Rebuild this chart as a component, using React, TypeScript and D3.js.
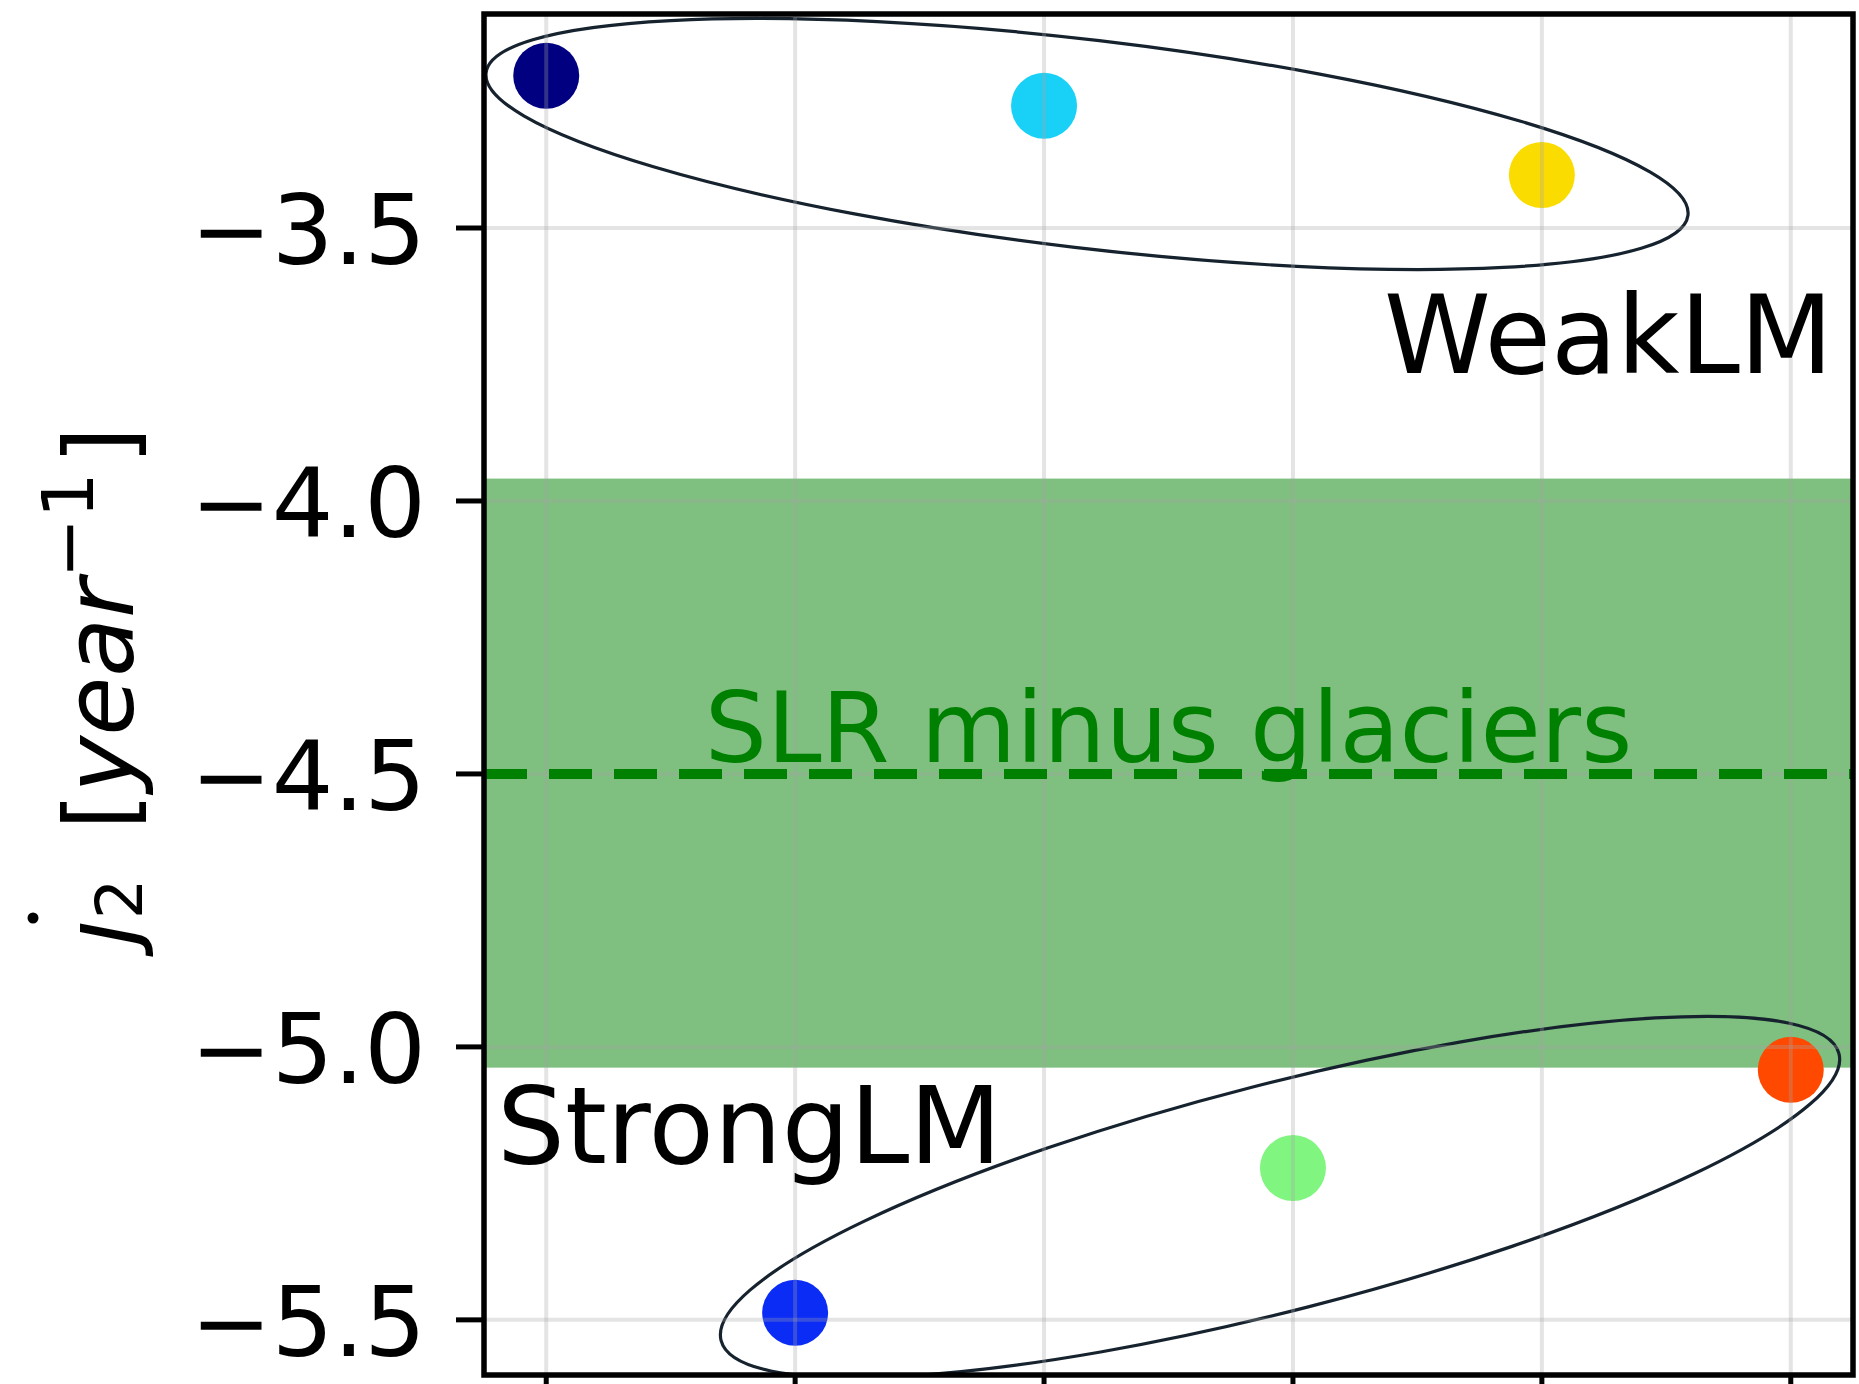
import React from "react";
import * as d3 from "d3";

// Scenario index along the x axis and the J2 rate for each scenario
const scenarioIndex = [0, 1, 2, 3, 4, 5];
const j2Rate = [-3.221, -5.487, -3.276, -5.222, -3.403, -5.042];
const pointColors = ["#000080", "#0a2cf5", "#19d0f6", "#80f580", "#fadc00", "#ff4800"];

const xTicks = [0, 1, 2, 3, 4, 5];
const yTicks = [-3.5, -4.0, -4.5, -5.0, -5.5];
const xDomain = [-0.25, 5.25];
const yDomain = [-5.601, -3.108];

// Observational range (SLR minus glaciers) and its central value
const slrBand = [-5.038, -3.959];
const slrCentral = -4.5;
const slrLabel = "SLR minus glaciers";

// Group outlines: major-axis endpoints in data units, minor/major ratio in screen space
const groupNames = ["WeakLM", "StrongLM"];
const groupMajorStart = [[-0.2416, -3.2157], [0.7026, -5.538]];
const groupMajorEnd = [[4.587, -3.4766], [5.1936, -5.0122]];
const groupAxisRatio = [0.172, 0.1965];

const W = 1859;
const H = 1384;
const plot = { left: 484, right: 1853, top: 14, bottom: 1375 };
const FONT = "'DejaVu Sans', sans-serif";

export default function App() {
  const x = d3.scaleLinear().domain(xDomain).range([plot.left, plot.right]);
  const y = d3.scaleLinear().domain(yDomain).range([plot.bottom, plot.top]);

  const ellipses = groupNames.map((name, i) => {
    const p0 = [x(groupMajorStart[i][0]), y(groupMajorStart[i][1])];
    const p1 = [x(groupMajorEnd[i][0]), y(groupMajorEnd[i][1])];
    const cx = (p0[0] + p1[0]) / 2;
    const cy = (p0[1] + p1[1]) / 2;
    const rx = Math.hypot(p1[0] - p0[0], p1[1] - p0[1]) / 2;
    const ry = rx * groupAxisRatio[i];
    const angle = (Math.atan2(p1[1] - p0[1], p1[0] - p0[0]) * 180) / Math.PI;
    return { name, cx, cy, rx, ry, angle };
  });

  const tickLen = 28;
  const tickFont = 97;

  // rotated y-axis label anchor (baseline)
  const labX = 133;
  const labY = 694;
  const labFont = 96;

  return (
    <div style={{ position: "absolute", left: 0, top: 0 }}>
      <svg width={W} height={H} viewBox={`0 0 ${W} ${H}`} style={{ display: "block", background: "#fff" }}>
        <defs>
          <clipPath id="plotClip">
            <rect x={plot.left} y={plot.top} width={plot.right - plot.left} height={plot.bottom - plot.top} />
          </clipPath>
        </defs>

        <g clipPath="url(#plotClip)">
          {/* observational band */}
          <rect
            x={plot.left}
            width={plot.right - plot.left}
            y={y(slrBand[1])}
            height={y(slrBand[0]) - y(slrBand[1])}
            fill="#008000"
            fillOpacity={0.5}
          />

          {/* scenario points */}
          {scenarioIndex.map((s, i) => (
            <circle key={s} cx={x(s)} cy={y(j2Rate[i])} r={33} fill={pointColors[i]} />
          ))}

          {/* group outlines */}
          {ellipses.map((e) => (
            <ellipse
              key={e.name}
              cx={e.cx}
              cy={e.cy}
              rx={e.rx}
              ry={e.ry}
              transform={`rotate(${e.angle} ${e.cx} ${e.cy})`}
              fill="none"
              stroke="#16232e"
              strokeWidth={3.2}
            />
          ))}

          {/* grid */}
          {xTicks.map((t) => (
            <line key={"gx" + t} x1={x(t)} x2={x(t)} y1={plot.top} y2={plot.bottom} stroke="#a5a5a5" strokeOpacity={0.3} strokeWidth={4} />
          ))}
          {yTicks.map((t) => (
            <line key={"gy" + t} x1={plot.left} x2={plot.right} y1={y(t)} y2={y(t)} stroke="#a5a5a5" strokeOpacity={0.3} strokeWidth={4} />
          ))}

          <text
            x={x(2.5)}
            y={y(slrCentral) - 12}
            textAnchor="middle"
            fontFamily={FONT}
            fontSize={98}
            fill="#008000"
          >
            {slrLabel}
          </text>
          <line
            x1={plot.left}
            x2={plot.right}
            y1={y(slrCentral)}
            y2={y(slrCentral)}
            stroke="#008000"
            strokeWidth={10}
            strokeDasharray="43 22"
          />
        </g>

        {/* group names */}
        <text x={1833} y={373} textAnchor="end" fontFamily={FONT} fontSize={108} fill="#000">
          {groupNames[0]}
        </text>
        <text x={497} y={1163} textAnchor="start" fontFamily={FONT} fontSize={107} fill="#000">
          {groupNames[1]}
        </text>

        {/* y ticks and labels */}
        {yTicks.map((t) => (
          <g key={"yt" + t}>
            <line x1={plot.left - tickLen} x2={plot.left} y1={y(t)} y2={y(t)} stroke="#000" strokeWidth={5} />
            <text
              x={plot.left - tickLen - 30}
              y={y(t)}
              dy="0.37em"
              textAnchor="end"
              fontFamily={FONT}
              fontSize={tickFont}
              fill="#000"
            >
              {d3.format(".1f")(t).replace("-", "\u2212")}
            </text>
          </g>
        ))}

        {/* x ticks */}
        {xTicks.map((t) => (
          <line key={"xt" + t} x1={x(t)} x2={x(t)} y1={plot.bottom} y2={plot.bottom + tickLen} stroke="#000" strokeWidth={5} />
        ))}

        {/* spines */}
        <rect
          x={plot.left}
          y={plot.top}
          width={plot.right - plot.left}
          height={plot.bottom - plot.top}
          fill="none"
          stroke="#000"
          strokeWidth={5.5}
        />

        {/* y-axis label: j-dot sub 2 [year^-1] */}
        <g transform={`translate(${labX},${labY}) rotate(-90)`} fontFamily={FONT} fill="#000">
          <text x={-252} y={0} fontSize={labFont}>
            <tspan fontStyle="italic">{"\u0237"}</tspan>
            <tspan fontSize={64} dy={9}>2</tspan>
            <tspan dy={-9} dx={18}>{" ["}</tspan>
            <tspan fontStyle="italic">year</tspan>
            <tspan fontSize={72} dy={-40}>{"\u22121"}</tspan>
            <tspan dy={40} dx={8}>]</tspan>
          </text>
          <circle cx={-224} cy={-100} r={5.5} />
        </g>
      </svg>
    </div>
  );
}
